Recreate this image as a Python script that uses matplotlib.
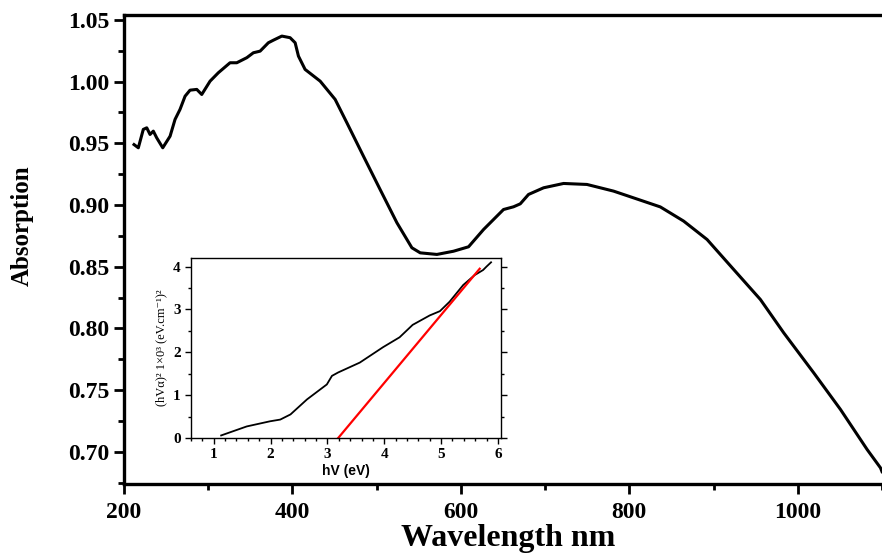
import matplotlib.pyplot as plt
from matplotlib.ticker import MultipleLocator

# main absorption spectrum
wavelength = [211.9, 217.0, 222.9, 227.0, 230.9, 234.8, 238.8, 246.0, 254.7, 260.6,
              266.5, 272.5, 278.4, 286.4, 292.3, 302.2, 312.0, 325.9, 333.9, 345.8,
              353.6, 361.6, 371.4, 377.4, 387.4, 397.2, 403.2, 407.1, 415.0, 432.9,
              450.7, 464.6, 484.3, 504.1, 524.0, 541.8, 551.7, 571.5, 591.2, 609.1,
              626.9, 650.6, 662.5, 670.5, 680.3, 698.2, 721.9, 749.7, 781.3, 813.0,
              836.8, 864.5, 892.3, 923.9, 955.6, 983.3, 1018.9, 1050.7, 1082.4, 1098.2, 1100.0]
absorption = [0.949, 0.9464, 0.9613, 0.9626, 0.9572, 0.9599, 0.9545, 0.9464, 0.9558, 0.9694,
              0.9775, 0.9882, 0.9931, 0.9937, 0.9896, 1.0004, 1.0072, 1.0153, 1.0153, 1.0194,
              1.0234, 1.0247, 1.0315, 1.0336, 1.0369, 1.0356, 1.0315, 1.0207, 1.0099, 1.0004,
              0.9856, 0.9667, 0.9396, 0.9126, 0.8857, 0.8654, 0.8613, 0.8600, 0.8626, 0.8662,
              0.8802, 0.8964, 0.8986, 0.9010, 0.9086, 0.9140, 0.9175, 0.9167, 0.9113, 0.9040,
              0.8985, 0.8870, 0.8721, 0.8478, 0.8235, 0.7965, 0.7641, 0.7344, 0.7019, 0.6871, 0.684]

# inset: Tauc plot
hv = [1.13, 1.58, 1.99, 2.17, 2.35, 2.64, 2.99, 3.08, 3.19, 3.57, 3.98, 4.27, 4.50,
      4.80, 4.98, 5.15, 5.39, 5.59, 5.74, 5.80, 5.88]
tauc = [0.06, 0.27, 0.39, 0.43, 0.55, 0.90, 1.25, 1.45, 1.53, 1.76, 2.12, 2.35, 2.64,
        2.86, 2.96, 3.18, 3.57, 3.80, 3.92, 4.00, 4.10]
fit_x = [3.19, 5.68]
fit_y = [0.0, 3.95]

fig = plt.figure(figsize=(8.82, 5.55), dpi=100)
ax = fig.add_axes([0.1406, 0.1279, 0.8594, 0.8451])

ax.plot(wavelength, absorption, color='black', lw=2.2)
ax.set_xlim(200, 1100)
ax.set_ylim(0.674, 1.054)
ax.xaxis.set_major_locator(MultipleLocator(200))
ax.xaxis.set_minor_locator(MultipleLocator(100))
ax.yaxis.set_major_locator(MultipleLocator(0.05))
ax.yaxis.set_minor_locator(MultipleLocator(0.025))
ax.yaxis.set_major_formatter(lambda v, p: f'{v:.2f}')
ax.tick_params(which='major', direction='out', length=7, width=2)
ax.tick_params(which='minor', direction='out', length=4, width=2)
ax.tick_params(axis='x', pad=6)
for s in ['left', 'bottom', 'top']:
    ax.spines[s].set_linewidth(2.4)
ax.spines['right'].set_visible(False)
for lbl in ax.get_xticklabels() + ax.get_yticklabels():
    lbl.set_family('Liberation Serif')
    lbl.set_fontweight('bold')
    lbl.set_fontsize(17)
fig.text(0.5765, 0.003, 'Wavelength nm', family='Liberation Serif', fontweight='bold',
         fontsize=23, ha='center', va='bottom')
fig.text(0.025, 1 - 226 / 555, 'Absorption', family='Liberation Serif', fontweight='bold',
         fontsize=18, rotation=90, ha='center', va='center')

ins = fig.add_axes([0.2166, 0.2108, 0.3511, 0.3243])
ins.plot(hv, tauc, color='black', lw=1.3)
ins.plot(fit_x, fit_y, color='red', lw=1.6)
ins.set_xlim(0.6, 6.05)
ins.set_ylim(0, 4.2)
ins.xaxis.set_major_locator(MultipleLocator(1))
ins.xaxis.set_minor_locator(MultipleLocator(0.2))
ins.yaxis.set_major_locator(MultipleLocator(1))
ins.yaxis.set_minor_locator(MultipleLocator(0.5))
ins.tick_params(which='major', direction='out', length=4, width=1, right=True)
ins.tick_params(which='minor', direction='out', length=2, width=1, right=True)
for s in ins.spines.values():
    s.set_linewidth(1.0)
for lbl in ins.get_xticklabels() + ins.get_yticklabels():
    lbl.set_family('Liberation Serif')
    lbl.set_fontweight('bold')
    lbl.set_fontsize(11)
ins.set_xlabel('hV (eV)', family='Liberation Sans', fontweight='bold', fontsize=10, labelpad=2)
ins.set_ylabel('(hVα)² 1×0³ (eV.cm⁻¹)²', family=['Liberation Serif', 'DejaVu Serif'],
               fontsize=9, labelpad=4)

fig.savefig('out.png', dpi=100)
